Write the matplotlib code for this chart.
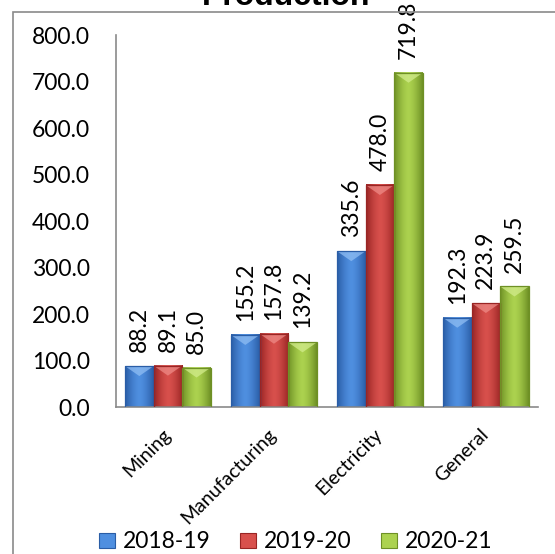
import numpy as np
import matplotlib.pyplot as plt
from matplotlib.colors import to_rgb
from matplotlib.patches import Patch, Rectangle, Polygon

# Index values by sector and year
categories = ["Mining", "Manufacturing", "Electricity", "General"]
years = ["2018-19", "2019-20", "2020-21"]
v_2018 = [88.2, 155.2, 335.6, 192.3]
v_2019 = [89.1, 157.8, 478.0, 223.9]
v_2020 = [85.0, 139.2, 719.8, 259.5]
series = [v_2018, v_2019, v_2020]

# (edge shade, centre highlight, bevel) for each year
shades = [("#2a5da6", "#4f8fe0", "#8fbdf3"),
          ("#992524", "#d8504c", "#ee8a86"),
          ("#6e9025", "#acd24f", "#d2ec8c")]

plt.rcParams["font.family"] = ["Lato", "DejaVu Sans"]

fig = plt.figure(figsize=(5.55, 5.54), dpi=100)
ax = fig.add_axes([0.209, 0.2653, 0.76, 0.6707])

x = np.arange(len(categories))
w = 0.27
ymax = 800
bevel = 10 / (0.6707 * 554) * ymax   # ~10 px deep top bevel


def shade_bar(bar, dark, light, top):
    bx, by = bar.get_xy()
    bw, bh = bar.get_width(), bar.get_height()
    t = np.linspace(0, 1, 60)
    k = 1 - np.abs(2 * t - 1) ** 1.5
    d, l = np.array(to_rgb(dark)), np.array(to_rgb(light))
    row = d[None, :] + (l - d)[None, :] * k[:, None]
    ax.imshow(row[None, :, :], extent=[bx, bx + bw, by, by + bh],
              aspect="auto", interpolation="bilinear", zorder=2)
    ax.add_patch(Polygon([(bx, by + bh), (bx + bw, by + bh),
                          (bx + bw / 2, by + bh - bevel)],
                         closed=True, facecolor=top, edgecolor="none",
                         alpha=0.75, zorder=2.5))
    ax.add_patch(Rectangle((bx, by), bw, bh, fill=False,
                           edgecolor=dark, linewidth=0.9, zorder=3))


for i, (vals, (dark, light, top)) in enumerate(zip(series, shades)):
    bars = ax.bar(x + (i - 1) * w, vals, w, color="none", zorder=1)
    for bar, v in zip(bars, vals):
        shade_bar(bar, dark, light, top)
        ax.annotate(f"{v:.1f}", (bar.get_x() + bar.get_width() / 2, v),
                    xytext=(0, 10), textcoords="offset points",
                    rotation=90, ha="center", va="bottom",
                    fontsize=16.5, annotation_clip=False)

ax.set_xlim(-0.49, 3.49)
ax.set_ylim(0, ymax)
ax.set_yticks(np.arange(0, 801, 100))
ax.set_yticklabels([f"{t:.1f}" for t in np.arange(0, 801, 100)], fontsize=16.5)
ax.set_xticks(x)
ax.set_xticklabels(categories, fontsize=14)
plt.setp(ax.get_xticklabels(), rotation=45, ha="right", va="center",
         rotation_mode="anchor")
ax.tick_params(axis="y", length=0, pad=18.7)
ax.tick_params(axis="x", length=0, pad=18)

for s in ["top", "right"]:
    ax.spines[s].set_visible(False)
for s in ["left", "bottom"]:
    ax.spines[s].set_color("#8a8a8a")
    ax.spines[s].set_linewidth(1.2)

fig.text(0.515, 1 - 5 / 554, "Production", ha="center", va="baseline",
         fontsize=23, fontweight="bold", family="Liberation Sans")

# outer chart frame (runs off the right and bottom edges)
fig.patches.append(Rectangle((13 / 555, -0.05), 1.0, 1 - 12 / 554 + 0.05,
                             transform=fig.transFigure, fill=False,
                             edgecolor="#8a8a8a", linewidth=1.2))

handles = [Patch(facecolor=light, edgecolor=dark, linewidth=0.8)
           for dark, light, top in shades]
fig.legend(handles, years, loc="center", bbox_to_anchor=(0.533, 1 - 542 / 554),
           ncol=3, frameon=False, fontsize=16.5, handlelength=0.68,
           handleheight=0.68, handletextpad=0.35, columnspacing=1.3,
           borderaxespad=0, borderpad=0)

fig.savefig("out.png", dpi=100)
